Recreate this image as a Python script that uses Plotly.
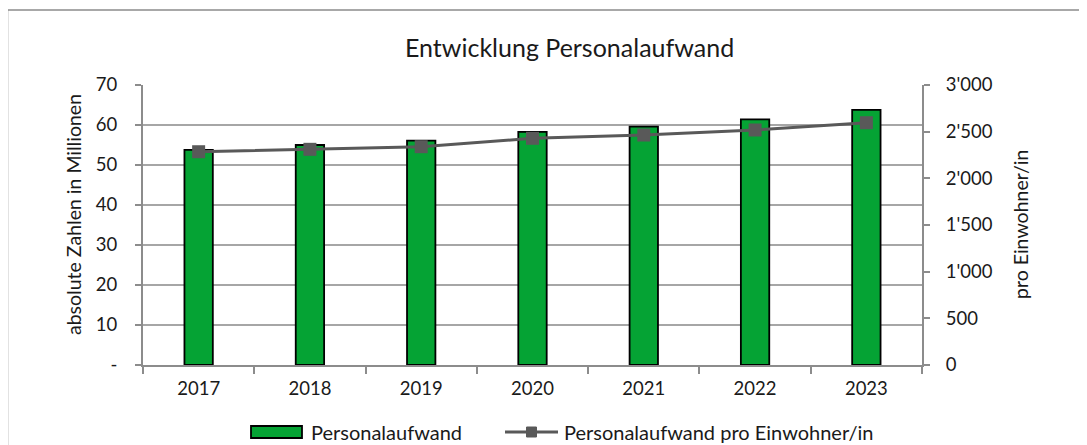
import plotly.graph_objects as go

# ---- data ----
years = ["2017", "2018", "2019", "2020", "2021", "2022", "2023"]
personalaufwand = [53.8, 55.0, 56.1, 58.3, 59.6, 61.4, 63.8]          # Mio.
pro_einwohner = [2285, 2311, 2339, 2429, 2464, 2518, 2596]            # pro Einwohner/in

y1_ticks = [0, 10, 20, 30, 40, 50, 60, 70]
y1_labels = ["-", "10", "20", "30", "40", "50", "60", "70"]
y2_ticks = [0, 500, 1000, 1500, 2000, 2500, 3000]
y2_labels = ["0", "500", "1'000", "1'500", "2'000", "2'500", "3'000"]

bar_name = "Personalaufwand"
line_name = "Personalaufwand pro Einwohner/in"
title_text = "Entwicklung Personalaufwand"
y1_title = "absolute Zahlen in Millionen"
y2_title = "pro Einwohner/in"

# ---- style ----
OFF = 8                      # page body margin offset
W, H = 1087 - OFF, 445 - OFF
L, R, T, B = 143 - OFF, 165, 85 - OFF, 80
PW, PH = W - L - R, H - T - B
FONT = "Lato, 'Liberation Sans', Arial, sans-serif"
GREEN = "#05A334"
LINEC = "#595959"
GRID = "#A6A6A6"
AXIS = "#8C8C8C"
TXT = "#1a1a1a"


def px(x):
    """reference-screen x pixel -> paper coordinate"""
    return (x - OFF - L) / PW


def py(y):
    """reference-screen y pixel -> paper coordinate"""
    return (H - B - (y - OFF)) / PH


fig = go.Figure()
fig.add_trace(go.Bar(
    x=years, y=personalaufwand, name=bar_name, width=0.255,
    marker=dict(color=GREEN, line=dict(color="black", width=1.8)),
    showlegend=False, yaxis="y"))
fig.add_trace(go.Scatter(
    x=years, y=pro_einwohner, name=line_name, mode="lines+markers",
    line=dict(color=LINEC, width=3),
    marker=dict(symbol="square", size=13, color=LINEC),
    showlegend=False, yaxis="y2"))

fig.update_layout(
    width=W, height=H, autosize=False,
    margin=dict(l=L, r=R, t=T, b=B),
    paper_bgcolor="white", plot_bgcolor="white",
    font=dict(family=FONT, size=18, color=TXT),
    xaxis=dict(
        type="category", showgrid=False, showline=True, linecolor=AXIS, linewidth=2,
        ticks="outside", tickson="boundaries", ticklen=7, tickcolor=AXIS, tickwidth=2,
        tickfont=dict(size=18.5), ticklabelstandoff=6, range=[-0.5, 6.5]),
    yaxis=dict(
        range=[0, 70], tickvals=y1_ticks, ticktext=y1_labels,
        showgrid=True, gridcolor=GRID, gridwidth=1.5, zeroline=False,
        showline=True, linecolor=AXIS, linewidth=2,
        ticks="outside", ticklen=6, tickcolor=AXIS, tickwidth=2,
        tickfont=dict(size=18.5), ticklabelstandoff=14),
    yaxis2=dict(
        range=[0, 3000], tickvals=y2_ticks, ticktext=y2_labels,
        overlaying="y", side="right", showgrid=False, zeroline=False,
        showline=True, linecolor=AXIS, linewidth=2,
        ticks="outside", ticklen=6, tickcolor=AXIS, tickwidth=2,
        tickfont=dict(size=18.5), ticklabelstandoff=12),
    showlegend=False,
)

annotations = [
    dict(text=title_text, x=px(569), y=py(47), xref="paper", yref="paper",
         xanchor="center", yanchor="middle", showarrow=False,
         font=dict(size=25, family=FONT, color=TXT)),
    dict(text=y1_title, x=px(73), y=py(215), xref="paper", yref="paper",
         xanchor="center", yanchor="middle", textangle=-90, showarrow=False,
         font=dict(size=19.5, family=FONT, color=TXT)),
    dict(text=y2_title, x=px(1020), y=py(225), xref="paper", yref="paper",
         xanchor="center", yanchor="middle", textangle=-90, showarrow=False,
         font=dict(size=19.5, family=FONT, color=TXT)),
    dict(text=bar_name, x=px(309), y=py(432), xref="paper", yref="paper",
         xanchor="left", yanchor="middle", showarrow=False,
         font=dict(size=20, family=FONT, color=TXT)),
    dict(text=line_name, x=px(562), y=py(432), xref="paper", yref="paper",
         xanchor="left", yanchor="middle", showarrow=False,
         font=dict(size=20, family=FONT, color=TXT)),
]

shapes = [
    # outer chart border
    dict(type="rect", xref="paper", yref="paper",
         x0=px(7.5), x1=px(1087 + 20), y0=py(445 + 20), y1=py(10),
         line=dict(color="#8C8C8C", width=1.5), fillcolor="rgba(0,0,0,0)", layer="below"),
    # legend: bar symbol
    dict(type="rect", xref="paper", yref="paper",
         x0=px(251), x1=px(302), y0=py(438), y1=py(426),
         line=dict(color="black", width=1.8), fillcolor=GREEN),
    # legend: line symbol
    dict(type="line", xref="paper", yref="paper",
         x0=px(505), x1=px(558), y0=py(432), y1=py(432),
         line=dict(color=LINEC, width=3)),
    dict(type="rect", xref="paper", yref="paper",
         x0=px(526.5), x1=px(536.5), y0=py(437), y1=py(427),
         line=dict(color=LINEC, width=1), fillcolor=LINEC),
]

fig.update_layout(annotations=annotations, shapes=shapes)
fig.write_html("out.html")
